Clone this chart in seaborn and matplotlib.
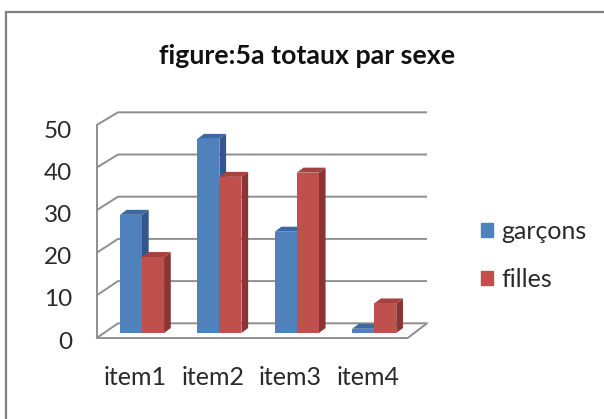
import matplotlib.pyplot as plt
import matplotlib.transforms as mtransforms
import pandas as pd
import seaborn as sns
from matplotlib.patches import Patch, Polygon, Rectangle

# data
items = ["item1", "item2", "item3", "item4"]
garcons = [28, 46, 24, 1]
filles = [18, 37, 38, 7]
series = ["garçons", "filles"]
yticks = [0, 10, 20, 30, 40, 50]

blue, red = "#4F81BD", "#C0504D"
blue_side, red_side = "#34578A", "#8A3533"
blue_top, red_top = "#3D69A3", "#A5423F"

df = pd.DataFrame({
    "item": items * 2,
    "sexe": [series[0]] * 4 + [series[1]] * 4,
    "total": garcons + filles,
})

sns.set_style("white")
plt.rcParams["font.family"] = ["Lato", "DejaVu Sans"]

W, H = 604, 419
fig = plt.figure(figsize=(W / 100, H / 100), dpi=100)

# pixel geometry of the plot
X0, XS = 142, 77.4   # pixel of category 0, pixels per category
Y0, YS = 333, 4.22   # pixel of value 0, pixels per unit
L, R, T, B = 90, 440, 100, 345
ax = fig.add_axes([L / W, 1 - B / H, (R - L) / W, (B - T) / H])


def px(x, y):
    return ((x - X0) / XS, (Y0 - y) / YS)


sns.barplot(data=df, x="item", y="total", hue="sexe", palette=[blue, red],
            width=0.57, saturation=1, legend=False, ax=ax)

# fake 3d depth on each bar
dx, dy = 6.7 / XS, 5.0 / YS
for bar, side, top in zip(ax.patches, [blue_side] * 4 + [red_side] * 4,
                          [blue_top] * 4 + [red_top] * 4):
    bar.set_zorder(3)
    bar.set_edgecolor("none")
    x, w, h = bar.get_x(), bar.get_width(), bar.get_height()
    ax.add_patch(Polygon([(x + w, 0), (x + w + dx, dy), (x + w + dx, h + dy),
                          (x + w, h)], closed=True, fc=side, ec="none", zorder=2))
    ax.add_patch(Polygon([(x, h), (x + dx, h + dy), (x + w + dx, h + dy),
                          (x + w, h)], closed=True, fc=top, ec="none", zorder=2))

# walls, gridlines and floor
gc = "#8E8E8E"
for v in yticks:
    fy = 338 - 4.26 * v
    by = 323.3 - 4.22 * v
    ax.plot(*zip(px(96.7, fy), px(118, by), px(427, by)), color=gc, lw=1.4,
            zorder=1, solid_capstyle="butt")
ax.plot(*zip(px(96.7, 338), px(96.7, 125)), color=gc, lw=1.4, zorder=1)
ax.plot(*zip(px(96.7, 338), px(407.7, 338), px(427, 323.3)), color=gc, lw=1.4,
        zorder=1)

ax.set_xlim(px(L, 0)[0], px(R, 0)[0])
ax.set_ylim(px(0, B)[1], px(0, T)[1])
sns.despine(ax=ax, left=True, bottom=True)
ax.set_xlabel("")
ax.set_ylabel("")

txt = "#2A2A2A"
ax.set_yticks(yticks)
ax.set_yticklabels([str(v) for v in yticks], fontsize=17.5, color=txt)
ax.tick_params(axis="both", length=0)
ax.tick_params(axis="y", pad=(L - 72) * 0.72)
off_y = mtransforms.ScaledTranslation(0, -0.07, fig.dpi_scale_trans)
for lab in ax.get_yticklabels():
    lab.set_transform(lab.get_transform() + off_y)

ax.set_xticks(range(len(items)))
ax.set_xticklabels(items, fontsize=18, color=txt)
ax.tick_params(axis="x", pad=15)
off_x = mtransforms.ScaledTranslation(-0.065, 0, fig.dpi_scale_trans)
for lab in ax.get_xticklabels():
    lab.set_transform(lab.get_transform() + off_x)

fig.text(307 / W, 1 - 56 / H, "figure:5a totaux par sexe", ha="center",
         va="center", fontsize=19.3, fontweight="bold", color="#111111")

handles = [Patch(color=blue, label=series[0]), Patch(color=red, label=series[1])]
fig.legend(handles=handles, loc="upper left",
           bbox_to_anchor=(481 / W, 1 - 220 / H), frameon=False, fontsize=18,
           labelcolor=txt, handlelength=0.47, handleheight=0.47,
           handletextpad=0.35, labelspacing=1.0, borderpad=0, borderaxespad=0)

fig.patches.append(Rectangle((6 / W, -0.1), 1.2, 1.1 - 12 / H, fill=False,
                             ec="#808080", lw=1.6, transform=fig.transFigure))

fig.savefig("out.png", dpi=100)
